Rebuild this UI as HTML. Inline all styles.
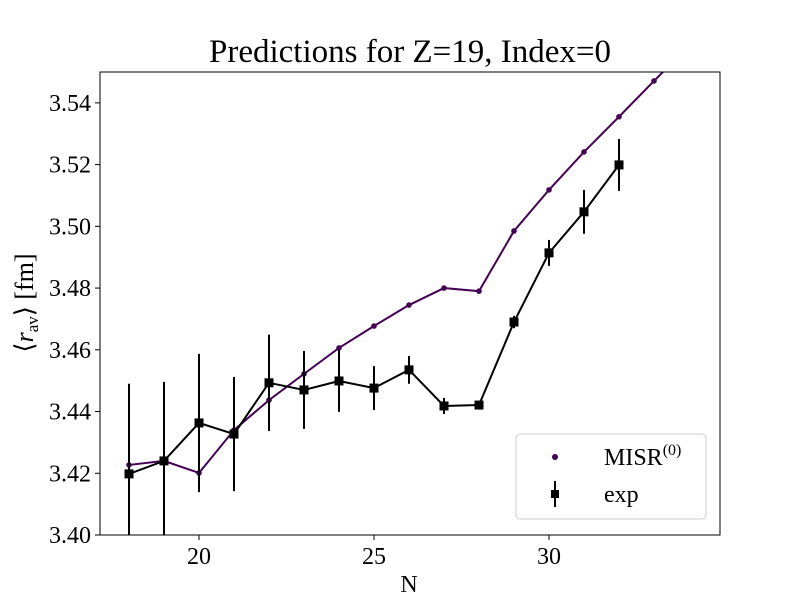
<!DOCTYPE html>
<html><head><meta charset="utf-8"><style>
body{margin:0;background:#fff;}
svg{display:block;font-family:"Liberation Serif",serif;}
</style></head><body>
<svg id="chart" width="800" height="600">
<rect x="0" y="0" width="800" height="600" fill="#fff"/>
<text x="410" y="62" font-size="33" text-anchor="middle">Predictions for Z=19, Index=0</text>
<defs><clipPath id="clip"><rect x="100" y="72" width="620" height="463"/></clipPath></defs>
<g id="axes"></g>
<g id="marks" clip-path="url(#clip)"></g>
<rect x="100" y="72" width="620" height="463" fill="none" stroke="#000" stroke-width="1"/>
<text x="409" y="592" font-size="24" text-anchor="middle">N</text>
<text transform="translate(33,303) rotate(-90)" font-size="26" text-anchor="middle">⟨<tspan font-style="italic">r</tspan><tspan font-size="17" dy="5">av</tspan><tspan dy="-5">⟩ [fm]</tspan></text>
<g>
<rect x="516" y="434" width="190" height="85" rx="4" fill="#fff" fill-opacity="0.8" stroke="#ccc"/>
<circle cx="555" cy="457" r="3" fill="#440154"/>
<text x="604" y="465" font-size="24">MISR<tspan font-size="16" dy="-10">(0)</tspan></text>
<line x1="555" y1="481" x2="555" y2="507" stroke="#000" stroke-width="2"/>
<rect x="551" y="490" width="8" height="8" fill="#000"/>
<text x="604" y="502" font-size="24">exp</text>
</g>
</svg>
<script>
const nValues=[18,19,20,21,22,23,24,25,26,27,28,29,30,31,32,33,34];
const misrValues=[3.4227,3.4240,3.4201,3.4340,3.4437,3.4522,3.4606,3.4677,3.4745,3.4800,3.4790,3.4985,3.5118,3.5241,3.5355,3.5471,3.5585];
const expN=[18,19,20,21,22,23,24,25,26,27,28,29,30,31,32];
const expValues=[3.4198,3.4240,3.4363,3.4327,3.4493,3.4470,3.4499,3.4476,3.4535,3.4418,3.4421,3.4690,3.4914,3.5047,3.5199];
const expErrors=[0.0292,0.0256,0.0224,0.0185,0.0156,0.0126,0.0100,0.0071,0.0045,0.0026,0.0010,0.0020,0.0042,0.0071,0.0084];
const xTicks=[20,25,30];
const yTicks=[3.40,3.42,3.44,3.46,3.48,3.50,3.52,3.54];
const NS="http://www.w3.org/2000/svg";
const xS=v=>199+(v-20)*35;
const yS=v=>535-(v-3.40)/0.15*463;
function mk(tag,attrs,parent){const e=document.createElementNS(NS,tag);for(const k in attrs)e.setAttribute(k,attrs[k]);parent.appendChild(e);return e;}
const axes=document.getElementById('axes'),marks=document.getElementById('marks');
xTicks.forEach(t=>{
 const l=mk('line',{x1:xS(t),x2:xS(t),y1:535,y2:540,stroke:'#000'},axes);
 
 
 const tx=mk('text',{x:xS(t),y:564,'font-size':24,'text-anchor':'middle'},axes);tx.textContent=t;
 
 
});
yTicks.forEach(t=>{
 const l=mk('line',{x1:95,x2:100,y1:yS(t),y2:yS(t),stroke:'#000'},axes);
 
 
 const tx=mk('text',{x:91,y:yS(t)+8,'font-size':24,'text-anchor':'end'},axes);tx.textContent=t.toFixed(2);
 
 
});
const mp=mk('polyline',{points:nValues.map((n,i)=>xS(n)+','+yS(misrValues[i])).join(' '),fill:'none',stroke:'#440154','stroke-width':2},marks);


nValues.forEach((n,i)=>{
 const c=mk('circle',{cx:xS(n),cy:yS(misrValues[i]),r:2.8,fill:'#440154'},marks);
 
 
});
const ep=mk('polyline',{points:expN.map((n,i)=>xS(n)+','+yS(expValues[i])).join(' '),fill:'none',stroke:'#000','stroke-width':2},marks);


expN.forEach((n,i)=>{
 const e=mk('line',{x1:xS(n),x2:xS(n),y1:yS(expValues[i]-expErrors[i]),y2:yS(expValues[i]+expErrors[i]),stroke:'#000','stroke-width':2},marks);
 
 
 const r=mk('rect',{x:xS(n)-4.5,y:yS(expValues[i])-4.5,width:9,height:9,fill:'#000'},marks);
 
 
});
</script>
</body></html>
